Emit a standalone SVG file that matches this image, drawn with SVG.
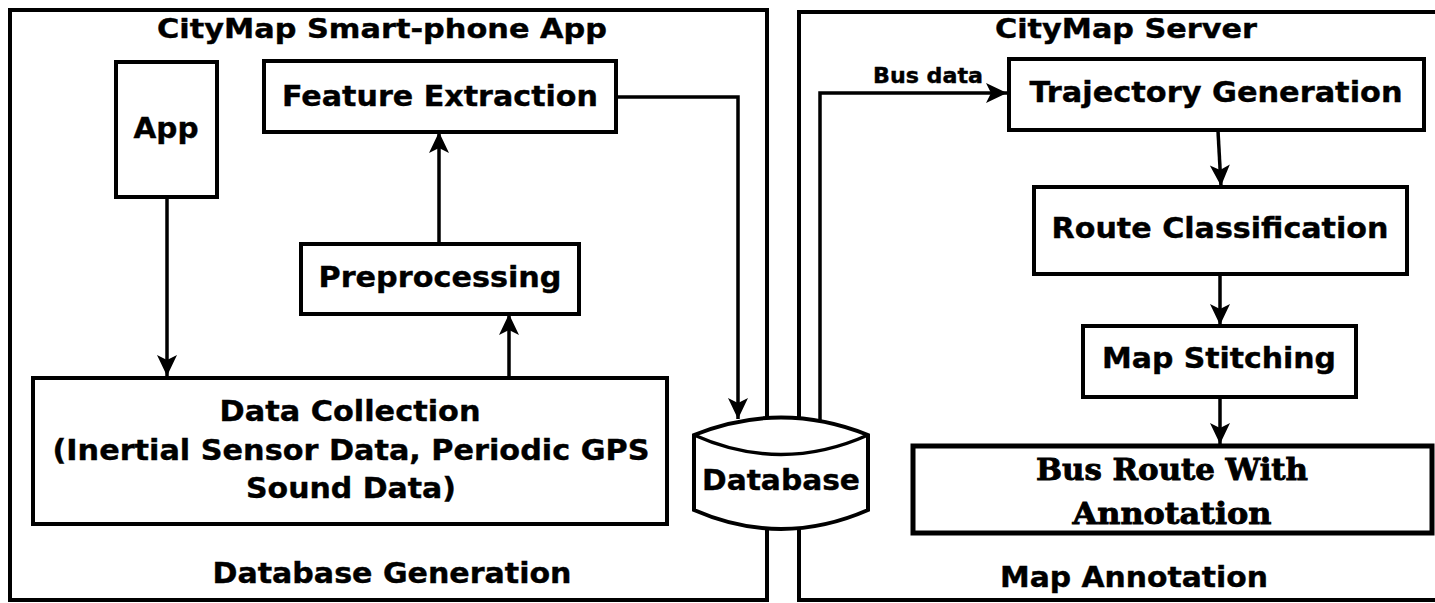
<svg xmlns="http://www.w3.org/2000/svg" width="1435" height="603" viewBox="0 0 1435 603">
  <style>
    .panel { fill: none; stroke: #000; stroke-width: 4; }
    .box { fill: #fff; stroke: #000; stroke-width: 4; }
    .thick { fill: #fff; stroke: #000; stroke-width: 5; }
    .wire { fill: none; stroke: #000; stroke-width: 3.5; }
    .lbl { font-family: "DejaVu Sans", "Liberation Sans", sans-serif; font-weight: bold; fill: #000; stroke: #000; stroke-width: 0.4; text-anchor: middle; }
    .serif { font-family: "DejaVu Serif", "Liberation Serif", serif; font-weight: bold; fill: #000; stroke: #000; stroke-width: 0.9; text-anchor: middle; }
  </style>
  <defs>
    <marker id="arrow" markerWidth="24" markerHeight="24" viewBox="-22 -12 23 24" refX="0" refY="0" orient="auto" markerUnits="userSpaceOnUse">
      <path d="M0,0 L-21,-10 L-16,0 L-21,10 Z" fill="#000"/>
    </marker>
  </defs>
  <rect width="1435" height="603" fill="#fff"/>

  <!-- panels -->
  <g id="panel-app">
    <rect class="panel" x="10" y="10" width="757" height="590"/>
    <text class="lbl" x="382" y="38" font-size="27" textLength="450" lengthAdjust="spacingAndGlyphs">CityMap Smart-phone App</text>
    <text class="lbl" x="392" y="583" font-size="28" textLength="359" lengthAdjust="spacingAndGlyphs">Database Generation</text>
  </g>
  <g id="panel-server">
    <rect class="panel" x="799" y="12" width="660" height="588"/>
    <text class="lbl" x="1126" y="38" font-size="27" textLength="262" lengthAdjust="spacingAndGlyphs">CityMap Server</text>
    <text class="lbl" x="1134" y="587" font-size="28" textLength="268" lengthAdjust="spacingAndGlyphs">Map Annotation</text>
  </g>

  <!-- connectors -->
  <g id="connectors">
    <line class="wire" x1="167" y1="197" x2="167" y2="376" marker-end="url(#arrow)"/>
    <line class="wire" x1="509" y1="377" x2="509" y2="314" marker-end="url(#arrow)"/>
    <line class="wire" x1="439" y1="243" x2="439" y2="132" marker-end="url(#arrow)"/>
    <polyline class="wire" points="616,97 738,97 738,419" marker-end="url(#arrow)"/>
    <polyline class="wire" points="820,426 820,93 1007,93" marker-end="url(#arrow)"/>
    <text class="lbl" x="928" y="83" font-size="21" textLength="110" lengthAdjust="spacingAndGlyphs">Bus data</text>
    <line class="wire" x1="1218" y1="131" x2="1221" y2="186" marker-end="url(#arrow)"/>
    <line class="wire" x1="1220" y1="275" x2="1220" y2="325" marker-end="url(#arrow)"/>
    <line class="wire" x1="1220" y1="398" x2="1220" y2="444" marker-end="url(#arrow)"/>
  </g>

  <!-- nodes -->
  <g id="node-app">
    <rect class="box" x="116" y="62" width="101" height="135"/>
    <text class="lbl" x="166" y="138" font-size="29" textLength="65" lengthAdjust="spacingAndGlyphs">App</text>
  </g>
  <g id="node-feature-extraction">
    <rect class="box" x="264" y="61" width="352" height="71"/>
    <text class="lbl" x="440" y="106" font-size="29" textLength="316" lengthAdjust="spacingAndGlyphs">Feature Extraction</text>
  </g>
  <g id="node-preprocessing">
    <rect class="box" x="301" y="244" width="278" height="70"/>
    <text class="lbl" x="440" y="287" font-size="29" textLength="243" lengthAdjust="spacingAndGlyphs">Preprocessing</text>
  </g>
  <g id="node-data-collection">
    <rect class="box" x="33" y="378" width="634" height="146"/>
    <text class="lbl" x="350" y="421" font-size="29" textLength="261" lengthAdjust="spacingAndGlyphs">Data Collection</text>
    <text class="lbl" x="351" y="460" font-size="29" textLength="597" lengthAdjust="spacingAndGlyphs">(Inertial Sensor Data, Periodic GPS</text>
    <text class="lbl" x="351" y="498" font-size="29" textLength="210" lengthAdjust="spacingAndGlyphs">Sound Data)</text>
  </g>
  <g id="node-database">
    <path class="box" d="M694,435 Q781,400 868,435 L868,510 Q781,548 694,510 Z"/>
    <path class="wire" d="M694,435 Q781,474 868,435"/>
    <text class="lbl" x="781" y="490" font-size="28" textLength="158" lengthAdjust="spacingAndGlyphs">Database</text>
  </g>
  <g id="node-trajectory">
    <rect class="box" x="1009" y="59" width="415" height="71"/>
    <text class="lbl" x="1216" y="102" font-size="29" textLength="373" lengthAdjust="spacingAndGlyphs">Trajectory Generation</text>
  </g>
  <g id="node-route-classification">
    <rect class="box" x="1034" y="187" width="373" height="87"/>
    <text class="lbl" x="1220" y="238" font-size="29" textLength="337" lengthAdjust="spacingAndGlyphs">Route Classification</text>
  </g>
  <g id="node-map-stitching">
    <rect class="box" x="1083" y="326" width="273" height="71"/>
    <text class="lbl" x="1219" y="368" font-size="29" textLength="234" lengthAdjust="spacingAndGlyphs">Map Stitching</text>
  </g>
  <g id="node-bus-route">
    <rect class="thick" x="913" y="446" width="519" height="87"/>
    <text class="serif" x="1172" y="480" font-size="30" textLength="272" lengthAdjust="spacingAndGlyphs">Bus Route With</text>
    <text class="serif" x="1172" y="524" font-size="30" textLength="199" lengthAdjust="spacingAndGlyphs">Annotation</text>
  </g>
</svg>
